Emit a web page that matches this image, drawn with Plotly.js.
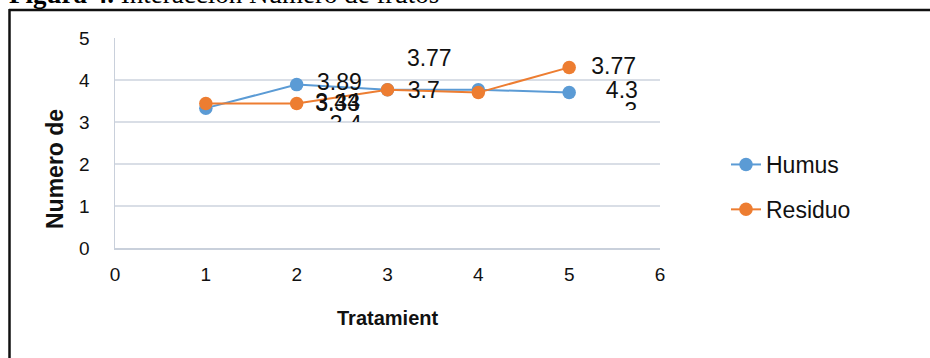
<!DOCTYPE html>
<html>
<head>
<meta charset="utf-8">
<script src="https://cdn.plot.ly/plotly-3.0.1.min.js"></script>
<style>
  html, body { margin: 0; padding: 0; background: #fff; }
  #chart { width: 930px; height: 358px; }
</style>
</head>
<body>
<div id="chart"></div>
<script>
// Número de frutos por tratamiento
const tratamientos = [1, 2, 3, 4, 5];
const humus   = [3.33, 3.89, 3.77, 3.77, 3.7];
const residuo = [3.44, 3.44, 3.77, 3.7, 4.3];
const xTicks = [0, 1, 2, 3, 4, 5, 6];
const yTicks = [0, 1, 2, 3, 4, 5];

// Floating value labels (text only)
const labelText = ['3.89', '3.44', '3.33', '3.77', '3.7', '3.77', '4.3', '3.4'];
const cutLabelText = ['3'];

// Where the labels sit, in axis units
const labelSpots = [
  [2.47, 3.90], [2.45, 3.43], [2.45, 3.39], [3.46, 4.48],
  [3.40, 3.72], [5.49, 4.27], [5.58, 3.72], [2.54, 2.91]
];
const cutLabelSpots = [[5.68, 3.20]];

const W = 930, H = 358;
const M = { l: 115, r: 270, t: 38, b: 110 };
const PW = W - M.l - M.r, PH = H - M.t - M.b;
const px2x = p => (p - M.l) / PW;
const py2y = p => (H - M.b - p) / PH;

const font = 'Liberation Sans, Arial, sans-serif';
const blue = '#5B9BD5', orange = '#ED7D31';

const traces = [
  {
    x: tratamientos, y: humus, name: 'Humus', type: 'scatter', mode: 'lines+markers',
    line: { color: blue, width: 2 }, marker: { color: blue, size: 13.5 },
    legendgroup: 'a', hoverinfo: 'x+y'
  },
  {
    x: tratamientos, y: residuo, name: 'Residuo', type: 'scatter', mode: 'lines+markers',
    line: { color: orange, width: 2 }, marker: { color: orange, size: 13.5 },
    legendgroup: 'b', hoverinfo: 'x+y'
  },
  {
    x: labelSpots.map(s => s[0]), y: labelSpots.map(s => s[1]), text: labelText,
    type: 'scatter', mode: 'text', textposition: 'middle center',
    textfont: { family: font, size: 23, color: '#111' },
    xaxis: 'x2', yaxis: 'y2', cliponaxis: true, showlegend: false, hoverinfo: 'skip'
  },
  {
    x: cutLabelSpots.map(s => s[0]), y: cutLabelSpots.map(s => s[1]), text: cutLabelText,
    type: 'scatter', mode: 'text', textposition: 'middle center',
    textfont: { family: font, size: 23, color: '#111' },
    xaxis: 'x3', yaxis: 'y3', cliponaxis: true, showlegend: false, hoverinfo: 'skip'
  }
];

const lowCut = py2y(110);
const hiddenAxis = { visible: false, showgrid: false, zeroline: false, fixedrange: true };

const layout = {
  width: W, height: H,
  margin: M,
  paper_bgcolor: '#fff', plot_bgcolor: 'rgba(0,0,0,0)',
  font: { family: font, color: '#111' },
  showlegend: true,
  xaxis: {
    range: [0, 6], tickvals: xTicks, ticktext: xTicks.map(String),
    showgrid: false, zeroline: false, showline: true, linecolor: '#c9d0db', linewidth: 1.5,
    ticks: '', ticklabelstandoff: 9, tickfont: { size: 19, color: '#111' }
  },
  yaxis: {
    range: [0, 5], tickvals: yTicks, ticktext: yTicks.map(String),
    showgrid: true, gridcolor: '#d9dee6', gridwidth: 1.5,
    zeroline: false, showline: true, linecolor: '#c9d0db', linewidth: 1.5,
    ticks: '', ticklabelstandoff: 20, tickfont: { size: 19, color: '#111' }
  },
  xaxis2: Object.assign({ range: [0, 6], domain: [0, 1], anchor: 'y2' }, hiddenAxis),
  yaxis2: Object.assign({ range: [3, 5], domain: [0.6, 1], anchor: 'x2' }, hiddenAxis),
  xaxis3: Object.assign({ range: [0, 6], domain: [0, 1], anchor: 'y3' }, hiddenAxis),
  yaxis3: Object.assign({ range: [5 * lowCut, 5], domain: [lowCut, 1], anchor: 'x3' }, hiddenAxis),
  legend: {
    x: px2x(726), y: py2y(143), xanchor: 'left', yanchor: 'top',
    font: { family: font, size: 23, color: '#111' },
    tracegroupgap: 12, bgcolor: 'rgba(0,0,0,0)'
  },
  annotations: [
    {
      text: '<b>Figura 4.</b> Interacción Número de frutos',
      xref: 'paper', yref: 'paper', x: px2x(7), y: py2y(11),
      xanchor: 'left', yanchor: 'bottom', showarrow: false,
      font: { family: 'Liberation Serif, Times New Roman, serif', size: 27, color: '#000' }
    },
    {
      text: '<b>Tratamient</b>',
      xref: 'paper', yref: 'paper', x: px2x(387), y: py2y(318),
      xanchor: 'center', yanchor: 'middle', showarrow: false,
      font: { family: font, size: 20, color: '#111' }
    },
    {
      text: '<b>Numero de</b>', textangle: -90,
      xref: 'paper', yref: 'paper', x: px2x(55), y: py2y(169),
      xanchor: 'center', yanchor: 'middle', showarrow: false,
      font: { family: font, size: 23, color: '#111' }
    }
  ],
  shapes: [
    { type: 'line', xref: 'paper', yref: 'paper', x0: px2x(9), x1: px2x(932), y0: py2y(10), y1: py2y(10),
      line: { color: '#111', width: 2.5 } },
    { type: 'line', xref: 'paper', yref: 'paper', x0: px2x(9.5), x1: px2x(9.5), y0: py2y(9), y1: py2y(360),
      line: { color: '#111', width: 2.5 } }
  ]
};

Plotly.newPlot('chart', traces, layout, { displayModeBar: false, staticPlot: true });
</script>
</body>
</html>
